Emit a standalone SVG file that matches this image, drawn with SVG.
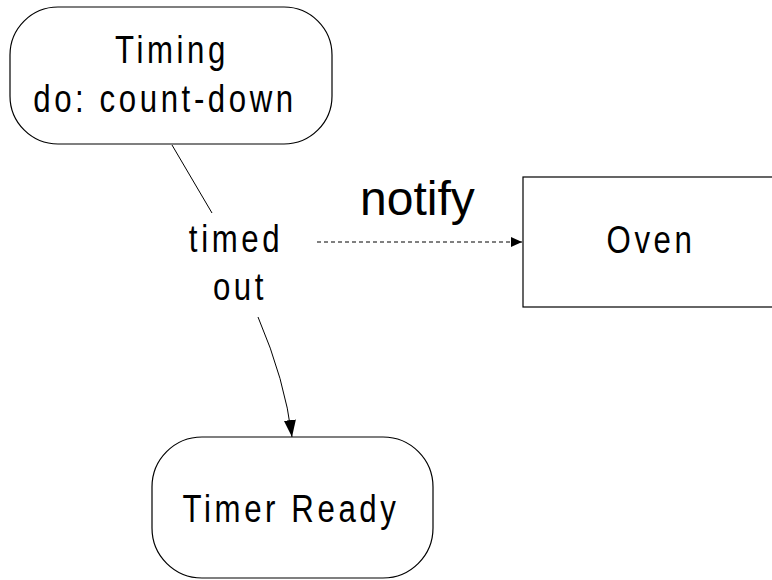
<svg xmlns="http://www.w3.org/2000/svg" width="772" height="580" viewBox="0 0 772 580">
<style>
.box{fill:#fff;stroke:#000;stroke-width:1.2}
.t{font-family:"Liberation Sans",Arial,sans-serif;font-size:39px;fill:#000;text-anchor:middle;letter-spacing:4.5px}
.c{fill:none;stroke:#000;stroke-width:1}
</style>
<defs>
<marker id="tri" markerWidth="12" markerHeight="10" refX="11" refY="5" orient="auto" markerUnits="userSpaceOnUse">
<path d="M0,0 L11,5 L0,10 Z" fill="#000"/>
</marker>
<marker id="big" markerWidth="18" markerHeight="12" refX="17" refY="6" orient="auto" markerUnits="userSpaceOnUse">
<path d="M0,0 L17,6 L0,12 Z" fill="#000"/>
</marker>
</defs>
<rect width="772" height="580" fill="#fff"/>
<g id="connectors">
<line class="c" x1="172" y1="145" x2="212" y2="213"/>
<path class="c" d="M258,317 Q285,380 292,437" marker-end="url(#big)"/>
<line class="c" x1="317" y1="242" x2="522" y2="242" stroke-dasharray="4,3" marker-end="url(#tri)"/>
<text x="360" y="215" style="font-family:'Liberation Sans',Arial,sans-serif;font-size:48px;fill:#000">notify</text>
<text class="t" transform="translate(236,252) scale(0.8,1)">timed</text>
<text class="t" transform="translate(240,300) scale(0.8,1)">out</text>
</g>
<g id="timing">
<rect class="box" x="10" y="7" width="322" height="137" rx="48" ry="48"/>
<text class="t" transform="translate(172,63) scale(0.8,1)">Timing</text>
<text class="t" transform="translate(165,112) scale(0.8,1)">do: count-down</text>
</g>
<g id="oven">
<rect class="box" x="523" y="177" width="300" height="130"/>
<text class="t" transform="translate(651,253) scale(0.8,1)">Oven</text>
</g>
<g id="timer-ready">
<rect class="box" x="152" y="437" width="281" height="141" rx="50" ry="50"/>
<text class="t" transform="translate(291,522) scale(0.8,1)">Timer Ready</text>
</g>
</svg>
